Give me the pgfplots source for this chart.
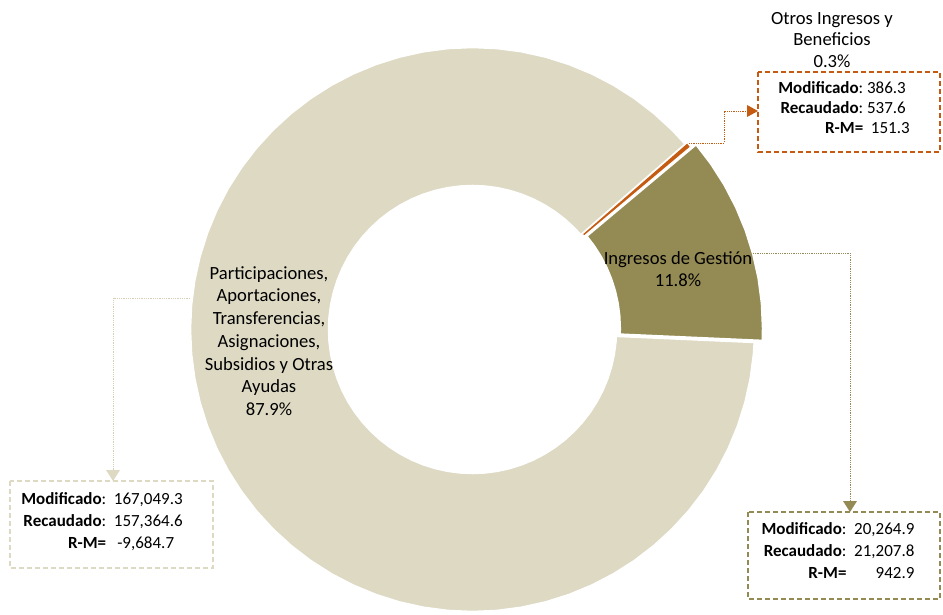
\documentclass[border=0pt]{standalone}
\usepackage{pgfplots}
\pgfplotsset{compat=1.18}
\usetikzlibrary{arrows.meta}
\usepackage{fontspec}
\setmainfont{Carlito}
\definecolor{beige}{HTML}{DDD9C3}
\definecolor{olive}{HTML}{948A54}
\definecolor{orng}{HTML}{C55A11}
\definecolor{beigeline}{HTML}{D4CFB6}
\begin{document}
\begin{tikzpicture}[x=1pt,y=1pt]
\path[use as bounding box] (0,0) rectangle (943,614);
\begin{axis}[
  at={(472.5pt,284.5pt)}, anchor=center,
  width=565pt, height=565pt, scale only axis,
  hide axis, clip=false, enlargelimits=false,
  xmin=-1, xmax=1, ymin=-1, ymax=1,
]
% Participaciones ... 87.9%  (angle, radius)
\addplot[data cs=polar, fill=beige, draw=white, line width=2.5pt, line join=round] coordinates {
(41.02,1) (45,1) (50,1) (55,1) (60,1) (65,1) (70,1) (75,1) (80,1) (85,1) (90,1) (95,1) (100,1) (105,1) (110,1) (115,1) (120,1) (125,1) (130,1) (135,1) (140,1) (145,1) (150,1) (155,1) (160,1) (165,1) (170,1) (175,1) (180,1) (185,1) (190,1) (195,1) (200,1) (205,1) (210,1) (215,1) (220,1) (225,1) (230,1) (235,1) (240,1) (245,1) (250,1) (255,1) (260,1) (265,1) (270,1) (275,1) (280,1) (285,1) (290,1) (295,1) (300,1) (305,1) (310,1) (315,1) (320,1) (325,1) (330,1) (335,1) (340,1) (345,1) (350,1) (355,1) (357.46,1)
(357.46,0.508) (355,0.508) (350,0.508) (345,0.508) (340,0.508) (335,0.508) (330,0.508) (325,0.508) (320,0.508) (315,0.508) (310,0.508) (305,0.508) (300,0.508) (295,0.508) (290,0.508) (285,0.508) (280,0.508) (275,0.508) (270,0.508) (265,0.508) (260,0.508) (255,0.508) (250,0.508) (245,0.508) (240,0.508) (235,0.508) (230,0.508) (225,0.508) (220,0.508) (215,0.508) (210,0.508) (205,0.508) (200,0.508) (195,0.508) (190,0.508) (185,0.508) (180,0.508) (175,0.508) (170,0.508) (165,0.508) (160,0.508) (155,0.508) (150,0.508) (145,0.508) (140,0.508) (135,0.508) (130,0.508) (125,0.508) (120,0.508) (115,0.508) (110,0.508) (105,0.508) (100,0.508) (95,0.508) (90,0.508) (85,0.508) (80,0.508) (75,0.508) (70,0.508) (65,0.508) (60,0.508) (55,0.508) (50,0.508) (45,0.508) (41.02,0.508)
} -- cycle;
% Ingresos de Gestion 11.8%
\addplot[data cs=polar, fill=olive, draw=white, line width=2.5pt, line join=round, shift={(18.7:4pt)}] coordinates {
(-2.54,1.015) (0,1.015) (5,1.015) (10,1.015) (15,1.015) (20,1.015) (25,1.015) (30,1.015) (35,1.015) (39.94,1.015)
(39.94,0.508) (35,0.508) (30,0.508) (25,0.508) (20,0.508) (15,0.508) (10,0.508) (5,0.508) (0,0.508) (-2.54,0.508)
} -- cycle;
% Otros Ingresos y Beneficios 0.3%
\addplot[data cs=polar, fill=orng, draw=white, line width=1pt, line join=round, shift={(40.5:2pt)}] coordinates {
(39.94,1) (41.02,1) (41.02,0.508) (39.94,0.508)
} -- cycle;
\end{axis}

% slice labels
\node[align=center, font=\fontsize{18.6}{22.7}\selectfont] at (269,273) {Participaciones,\\Aportaciones,\\Transferencias,\\Asignaciones,\\Subsidios y Otras\\Ayudas\\87.9\%};
\node[align=center, font=\fontsize{18.6}{22.7}\selectfont] at (678,345) {Ingresos de Gestión\\11.8\%};
\node[align=center, font=\fontsize{18.6}{21.6}\selectfont] at (832,574) {Otros Ingresos y\\Beneficios\\0.3\%};

% leader lines
\draw[beigeline, densely dotted, line width=0.8pt] (190,316) -- (113,316) -- (113,140);
\fill[beige] (113,133) -- (106,144) -- (120,144) -- cycle;
\draw[olive, densely dotted, line width=0.8pt] (753,361) -- (850,361) -- (850,110);
\fill[olive] (850,102) -- (843,113) -- (857,113) -- cycle;
\draw[orng, densely dotted, line width=0.8pt] (689,471) -- (724,471) -- (724,503) -- (748,503);
\fill[orng] (758,503) -- (747,509) -- (747,497) -- cycle;

% value boxes
\draw[orng, line width=1.8pt, dash pattern=on 5pt off 3pt] (758,542) rectangle (940,462);
\draw[olive, line width=1.8pt, dash pattern=on 5pt off 3pt] (748,102) rectangle (940,15);
\draw[beige, line width=1.5pt, dash pattern=on 5pt off 3pt] (10,133) rectangle (213,46);

\node[font=\fontsize{17}{20}\selectfont, inner sep=0pt] at (844,504) {\begin{tabular}{@{}r@{}l@{}}
\textbf{Modificado}:&\ 386.3\\
\textbf{Recaudado}:&\ 537.6\\
\textbf{R-M=}&\ \ 151.3
\end{tabular}};
\node[font=\fontsize{17}{22}\selectfont, inner sep=0pt] at (838,62) {\begin{tabular}{@{}r@{}r@{}}
\textbf{Modificado}:&\ 20,264.9\\
\textbf{Recaudado}:&\ \ 21,207.8\\
\textbf{R-M=}&942.9
\end{tabular}};
\node[font=\fontsize{17}{22}\selectfont, inner sep=0pt] at (102,92) {\begin{tabular}{@{}r@{}r@{}}
\textbf{Modificado}:&\ 167,049.3\\
\textbf{Recaudado}:&\ \ 157,364.6\\
\textbf{R-M=}&-9,684.7\hphantom{0}
\end{tabular}};
\end{tikzpicture}
\end{document}
